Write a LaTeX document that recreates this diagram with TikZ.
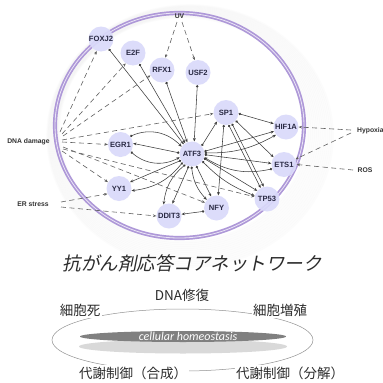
\documentclass[tikz,border=0pt]{standalone}
\usepackage{fontspec}
\setmainfont{Liberation Sans}
\newfontfamily\jpfont{Noto Sans CJK JP}
\newfontfamily\jpslant[FakeSlant=0.2]{Noto Sans CJK JP}
\newfontfamily\homefont{Carlito}
\usetikzlibrary{arrows.meta}
\definecolor{nodefill}{HTML}{DADAFA}
\definecolor{nodetext}{HTML}{2A2A44}
\definecolor{ringcol}{HTML}{AE98D8}
\definecolor{edgecol}{HTML}{3C3C3C}
\definecolor{dashcol}{HTML}{606060}
\definecolor{labcol}{HTML}{333333}
\definecolor{jpcol}{HTML}{2C2C2C}
\begin{document}
\begin{tikzpicture}[x=1pt,y=-1pt,
  gene/.style={circle,fill=nodefill,fill opacity=0.92,text opacity=1,minimum size=25pt,inner sep=0pt,font=\fontsize{7.6}{8}\selectfont\bfseries,text=nodetext},
  reg/.style={draw=edgecol,line width=0.55pt,{Circle[length=2.4pt]}-{Stealth[length=3.4pt,width=2.8pt]}},
  stim/.style={draw=dashcol,line width=0.6pt,dash pattern=on 5pt off 3.5pt,-{Stealth[length=3.4pt,width=2.8pt]}},
  lbl/.style={font=\fontsize{6.8}{8}\selectfont\bfseries,text=labcol,inner sep=1pt},
  jpl/.style={font=\jpfont\fontsize{13.5}{15}\selectfont,text=jpcol,fill=white,inner sep=1.5pt}]
\useasboundingbox (0,0) rectangle (383,383);
\fill[white] (0,0) rectangle (383,383);
% shadow of the cell
\foreach \i in {1,...,14}
  \draw[black,opacity=0.011,line width=2.4pt] (183+0.5*\i,129+0.5*\i) ellipse [x radius=123+1.4*\i,y radius=111+1.4*\i];
% cell ring
\draw[ringcol,line width=4.2pt] (179.5,125.5) ellipse [x radius=124.5,y radius=112.5];
\draw[white,opacity=0.75,line width=0.8pt] (179.5,125.5) ellipse [x radius=124.5,y radius=112.5];

% genes
\node[gene] (FOXJ2) at (101,39) {FOXJ2};
\node[gene] (E2F) at (133,53) {E2F};
\node[gene] (RFX1) at (162,70) {RFX1};
\node[gene] (USF2) at (198,72.5) {USF2};
\node[gene] (SP1) at (226,112.5) {SP1};
\node[gene] (HIF1A) at (286,127) {HIF1A};
\node[gene] (EGR1) at (120.5,144.5) {EGR1};
\node[gene] (ATF3) at (192,154) {ATF3};
\node[gene] (ETS1) at (284,164.5) {ETS1};
\node[gene] (YY1) at (119,188.5) {YY1};
\node[gene] (TP53) at (267,199) {TP53};
\node[gene] (NFY) at (216.5,208) {NFY};
\node[gene] (DDIT3) at (169,216) {DDIT3};

% stimulus labels
\node[lbl] (UV) at (179.5,16.5) {UV};
\node[lbl] (DNA) at (28.5,142) {DNA damage};
\node[lbl] (ER) at (33,204.5) {ER stress};
\node[lbl,anchor=west] (HYP) at (356,131) {Hypoxia};
\node[lbl] (ROS) at (365,170) {ROS};

\coordinate (uv1) at (177,22);
\coordinate (uv2) at (182,22);
\coordinate (d1) at (60,132);
\coordinate (d2) at (62,134);
\coordinate (d3) at (63,136);
\coordinate (d4) at (62,140);
\coordinate (d5) at (62,142);
\coordinate (d6) at (63,147);
\coordinate (d7) at (63,149);
\coordinate (d8) at (62,151);
\coordinate (er1) at (61,202);
\coordinate (er2) at (61,207);
\coordinate (hy1) at (351,130);
\coordinate (hy2) at (351,133);
\coordinate (ros1) at (353,170);

% solid regulatory edges
\draw[reg] (FOXJ2) -- (ATF3.130);
\draw[reg] (E2F) -- (ATF3.122);
\draw[reg] (RFX1) -- (ATF3.112);
\draw[reg] (USF2) -- (ATF3.80);
\draw[reg] (ATF3.40) -- (SP1.225);
\draw[reg] (ATF3.175) -- (EGR1.5);
\draw[reg] (EGR1.40) to[bend left=35] (ATF3.145);
\draw[reg] (EGR1.-35) to[bend right=35] (ATF3.195);
\draw[reg] (ATF3.210) -- (YY1.30);
\draw[reg] (ATF3.222) to[bend left=22] (YY1.-10);
\draw[reg] (ATF3.238) to[bend right=22] (DDIT3.115);
\draw[reg] (ATF3.255) -- (DDIT3.75);
\draw[reg] (ATF3.268) to[bend right=18] (NFY.140);
\draw[reg] (ATF3.290) -- (NFY.115);
\draw[reg] (ATF3.-35) to[bend right=12] (TP53.165);
\draw[reg] (ATF3.-20) -- (TP53.140);
\draw[reg] (ATF3.-3) -- (ETS1.175);
\draw[reg] (ETS1.200) to[bend left=22] (ATF3.-15);
\draw[reg] (ATF3.12) -- (HIF1A.200);
\draw[reg] (ATF3.5) to[bend right=15] (HIF1A.218);
\draw[reg] (SP1.-5) -- (HIF1A.165);
\draw[reg] (SP1.-40) -- (ETS1.145);
\draw[reg] (SP1.-62) -- (TP53.105);
\draw[reg] (SP1.-78) -- (TP53.120);
\draw[reg] (SP1.-100) -- (NFY.82);
\draw[reg] (NFY.195) -- (DDIT3.8);

% stimulus (dashed) edges
\draw[stim] (uv1) -- (RFX1.75);
\draw[stim] (uv2) -- (USF2.105);
\draw[stim] (d1) -- (FOXJ2.250);
\draw[stim] (d2) -- (E2F.235);
\draw[stim] (d3) -- (RFX1.205);
\draw[stim] (d4) -- (SP1.185);
\draw[stim] (d5) -- (EGR1.180);
\draw[stim] (d6) -- (NFY.155);
\draw[stim] (d7) -- (TP53.170);
\draw[stim] (d8) -- (YY1.150);
\draw[stim] (er1) -- (YY1.205);
\draw[stim] (er2) -- (DDIT3.180);
\draw[stim] (hy1) -- (HIF1A.east);
\draw[stim] (hy2) -- (ETS1.25);
\draw[stim] (ros1) -- (ETS1.east);

% lower part
\node[font=\jpslant\fontsize{18.5}{20}\selectfont,text=jpcol] (title) at (192,263) {抗がん剤応答コアネットワーク};
\draw[gray!85,line width=0.5pt] (182.5,340) ellipse [x radius=130.5,y radius=31];
\fill[gray!30] (183,346.5) ellipse [x radius=104,y radius=7];
\fill[gray!75!black!80] (183,336.5) ellipse [x radius=103,y radius=5.5];
\node[font=\homefont\itshape\fontsize{12}{13}\selectfont,text=white] (homeo) at (188,336) {cellular homeostasis};
\node[jpl,fill=none] (dnarep) at (182,295) {DNA修復};
\node[jpl] (death) at (80,310) {細胞死};
\node[jpl] (prolif) at (280,310) {細胞増殖};
\node[jpl] (anab) at (133,373) {代謝制御（合成）};
\node[jpl] (catab) at (290,373) {代謝制御（分解）};
\end{tikzpicture}
\end{document}
